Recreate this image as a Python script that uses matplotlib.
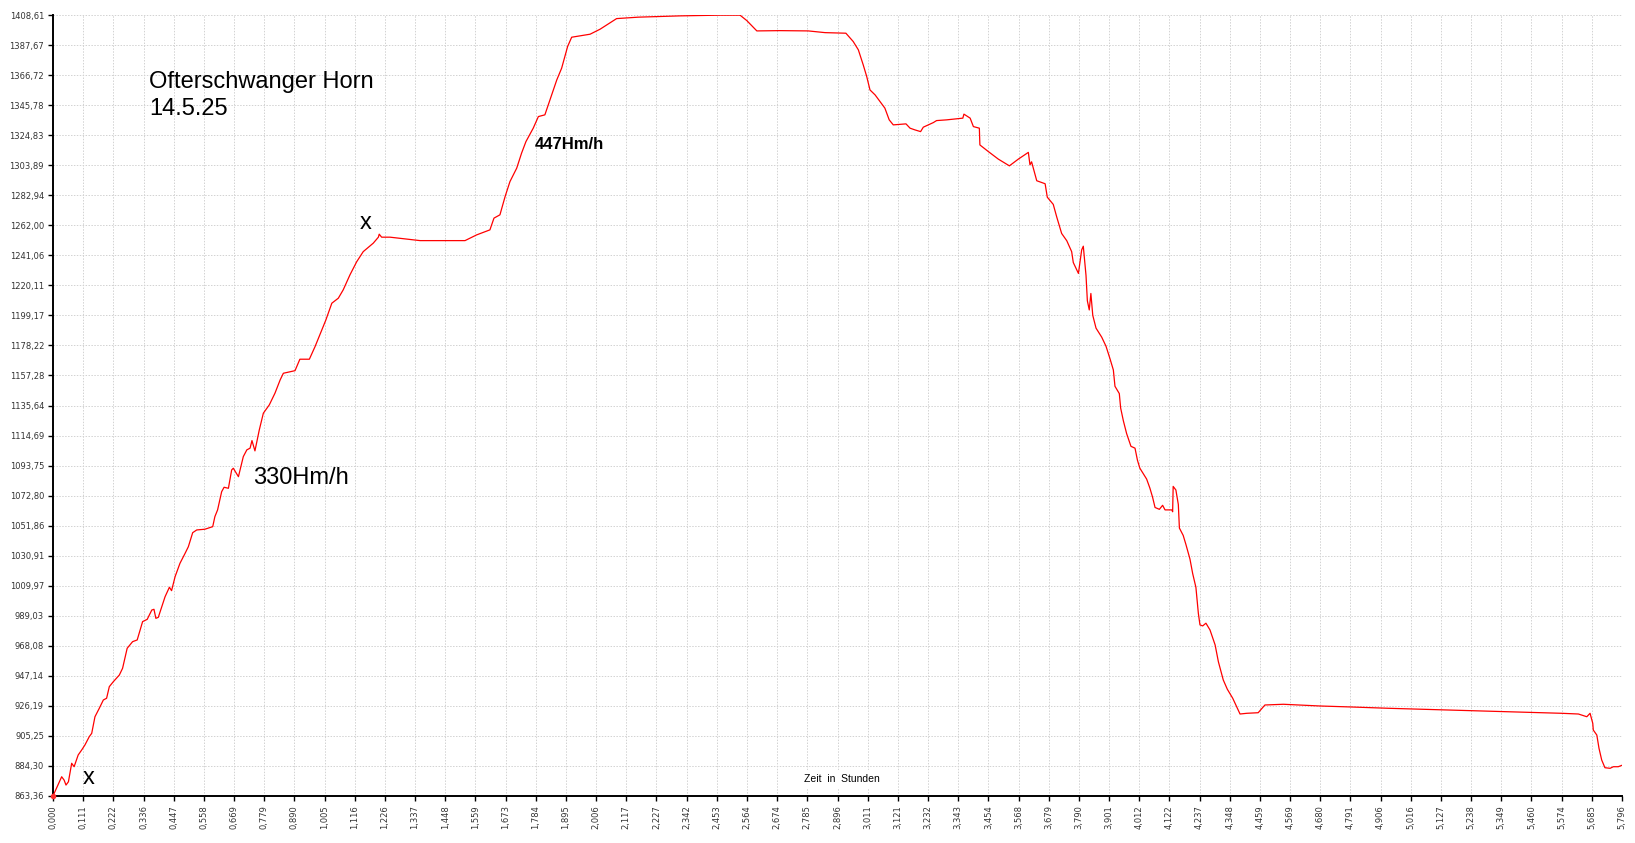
import matplotlib.pyplot as plt
import numpy as np

# Hoehenprofil, Zeit in Stunden / Hoehe in m
hours = [0.000, 0.032, 0.041, 0.048, 0.057, 0.069, 0.078, 0.093, 0.106, 0.118,
         0.134, 0.143, 0.155, 0.171, 0.186, 0.198, 0.208, 0.223, 0.245, 0.257,
         0.274, 0.294, 0.311, 0.331, 0.348, 0.365, 0.373, 0.380, 0.389, 0.414,
         0.430, 0.438, 0.451, 0.469, 0.488, 0.500, 0.516, 0.531, 0.561, 0.590,
         0.598, 0.608, 0.623, 0.632, 0.648, 0.660, 0.666, 0.685, 0.703, 0.716,
         0.728, 0.735, 0.746, 0.762, 0.777, 0.799, 0.820, 0.839, 0.851, 0.894,
         0.912, 0.947, 0.968, 1.008, 1.030, 1.054, 1.072, 1.097, 1.122, 1.146,
         1.183, 1.202, 1.205, 1.214, 1.245, 1.356, 1.522, 1.565, 1.614, 1.629,
         1.651, 1.670, 1.688, 1.713, 1.731, 1.747, 1.774, 1.793, 1.817, 1.836,
         1.861, 1.879, 1.891, 1.901, 1.916, 1.984, 2.021, 2.082, 2.162, 2.316,
         2.464, 2.538, 2.563, 2.600, 2.686, 2.790, 2.852, 2.929, 2.956, 2.975,
         2.993, 3.006, 3.018, 3.037, 3.055, 3.073, 3.089, 3.104, 3.151, 3.166,
         3.184, 3.205, 3.215, 3.252, 3.264, 3.301, 3.361, 3.365, 3.388, 3.400,
         3.422, 3.424, 3.455, 3.492, 3.533, 3.566, 3.603, 3.609, 3.615, 3.634,
         3.665, 3.673, 3.695, 3.708, 3.726, 3.745, 3.763, 3.769, 3.788, 3.800,
         3.806, 3.816, 3.821, 3.828, 3.834, 3.841, 3.853, 3.874, 3.890, 3.905,
         3.917, 3.923, 3.939, 3.944, 3.954, 3.966, 3.982, 3.997, 4.006, 4.015,
         4.040, 4.052, 4.062, 4.071, 4.087, 4.099, 4.108, 4.133, 4.136, 4.138,
         4.148, 4.157, 4.161, 4.175, 4.185, 4.200, 4.210, 4.222, 4.231, 4.237,
         4.247, 4.259, 4.274, 4.293, 4.305, 4.323, 4.338, 4.358, 4.385, 4.410,
         4.452, 4.477, 4.545, 4.680, 4.797, 4.933, 5.062, 5.185, 5.315, 5.444,
         5.573, 5.635, 5.666, 5.678, 5.688, 5.690, 5.703, 5.711, 5.721, 5.733,
         5.752, 5.764, 5.782, 5.796]
elevation = [863.4, 876.8, 874.5, 871.0, 873.3, 886.2, 883.8, 892.0, 895.5, 899.0,
             904.8, 907.1, 918.7, 924.6, 930.4, 931.6, 939.7, 943.2, 947.8, 952.5,
             966.5, 971.1, 972.3, 985.1, 986.7, 993.2, 993.7, 987.4, 988.1, 1002.5,
             1009.1, 1006.7, 1016.5, 1025.8, 1032.8, 1037.4, 1047.2, 1049.1, 1049.6, 1051.4,
             1058.4, 1063.1, 1075.8, 1078.9, 1078.2, 1091.0, 1092.2, 1086.3, 1100.3, 1105.0,
             1106.2, 1111.5, 1104.3, 1118.9, 1130.6, 1136.4, 1144.6, 1153.8, 1158.5, 1160.3,
             1168.3, 1168.3, 1177.1, 1195.7, 1207.4, 1210.9, 1216.7, 1227.2, 1236.4, 1243.4,
             1249.3, 1253.5, 1255.6, 1253.5, 1253.5, 1251.1, 1251.1, 1255.1, 1258.6, 1266.8,
             1269.1, 1281.8, 1292.3, 1301.7, 1312.2, 1320.2, 1329.6, 1337.7, 1338.9, 1349.4,
             1363.3, 1371.5, 1379.6, 1386.6, 1393.1, 1395.2, 1398.7, 1406.1, 1407.1, 1408.0,
             1408.5, 1408.5, 1404.7, 1397.5, 1397.7, 1397.5, 1396.3, 1395.9, 1390.1, 1384.3,
             1373.8, 1365.6, 1356.3, 1352.8, 1348.2, 1343.6, 1335.4, 1331.9, 1332.6, 1329.6,
             1328.4, 1327.2, 1330.3, 1333.5, 1334.9, 1335.4, 1336.6, 1339.4, 1336.6, 1330.7,
             1329.6, 1317.9, 1313.3, 1308.0, 1303.3, 1308.0, 1312.7, 1304.0, 1306.1, 1292.9,
             1290.8, 1281.4, 1276.4, 1267.5, 1256.1, 1251.0, 1243.4, 1235.8, 1228.2, 1244.6,
             1247.2, 1226.8, 1209.1, 1202.7, 1214.2, 1198.9, 1190.0, 1183.7, 1177.3, 1168.4,
             1160.8, 1149.4, 1144.3, 1134.2, 1125.3, 1116.4, 1107.5, 1106.2, 1097.8, 1092.2,
             1084.6, 1078.3, 1071.9, 1064.8, 1063.5, 1066.3, 1063.1, 1063.1, 1061.8, 1079.5,
             1077.0, 1066.9, 1050.4, 1045.3, 1039.0, 1028.8, 1018.7, 1009.0, 990.9, 982.8,
             982.1, 984.0, 979.3, 968.8, 957.1, 944.4, 937.9, 931.6, 920.6, 921.1,
             921.5, 926.9, 927.4, 926.2, 925.5, 924.6, 923.9, 923.2, 922.5, 921.8,
             921.1, 920.6, 918.7, 921.1, 914.1, 909.4, 905.9, 896.7, 888.5, 883.1,
             882.7, 883.8, 883.8, 884.8]

x_labels = ["0,000", "0,111", "0,222", "0,336", "0,447", "0,558", "0,669", "0,779",
            "0,890", "1,005", "1,116", "1,226", "1,337", "1,448", "1,559", "1,673",
            "1,784", "1,895", "2,006", "2,117", "2,227", "2,342", "2,453", "2,564",
            "2,674", "2,785", "2,896", "3,011", "3,121", "3,232", "3,343", "3,454",
            "3,568", "3,679", "3,790", "3,901", "4,012", "4,122", "4,237", "4,348",
            "4,459", "4,569", "4,680", "4,791", "4,906", "5,016", "5,127", "5,238",
            "5,349", "5,460", "5,574", "5,685", "5,796"]
y_labels = ["863,36", "884,30", "905,25", "926,19", "947,14", "968,08", "989,03",
            "1009,97", "1030,91", "1051,86", "1072,80", "1093,75", "1114,69", "1135,64",
            "1157,28", "1178,22", "1199,17", "1220,11", "1241,06", "1262,00", "1282,94",
            "1303,89", "1324,83", "1345,78", "1366,72", "1387,67", "1408,61"]

x_min, x_max = 0.0, 5.796
y_min, y_max = 863.36, 1408.61

fig = plt.figure(figsize=(16.35, 8.43), dpi=100)
ax = fig.add_axes([53 / 1635, 1 - 796 / 843, 1569 / 1635, 781 / 843])

ax.plot(hours, elevation, color='#ff0000', lw=0.9, zorder=3)
ax.plot(hours[0], elevation[0], 'o', color='#ff3030', ms=3, zorder=4, clip_on=False)

ax.set_xlim(x_min, x_max)
ax.set_ylim(y_min, y_max)
ax.set_xticks(np.linspace(x_min, x_max, len(x_labels)))
ax.set_xticklabels(x_labels, rotation=90)
ax.set_yticks(np.linspace(y_min, y_max, len(y_labels)))
ax.set_yticklabels(y_labels)
ax.tick_params(axis='both', direction='out', length=3.5, width=1, color='black',
               labelsize=6, labelcolor='#333333', pad=3)

ax.grid(True, color='#d2d2d2', lw=0.7, linestyle=(0, (1.5, 1.5)), zorder=0)
ax.set_axisbelow(True)
for side in ['top', 'right']:
    ax.spines[side].set_visible(False)
for side in ['left', 'bottom']:
    ax.spines[side].set_linewidth(1.4)

font = 'Liberation Sans'
# va='baseline' sitzt bei mehrzeiligem Text auf der letzten Zeile
ax.text(0.356, 1338.7, "Ofterschwanger Horn\n14.5.25", fontsize=17,
        family=font, va='baseline', ha='left', linespacing=1.3)
ax.text(0.738, 1081.2, "330Hm/h", fontsize=17, family=font, va='baseline')
ax.text(1.778, 1315.1, "447Hm/h", fontsize=12, family=font, weight='bold',
        va='baseline')
ax.text(0.111, 871.7, "x", fontsize=17, family=font, va='baseline')
ax.text(1.1315, 1259.5, "x", fontsize=17, family=font, va='baseline')
ax.text(2.915, 875.0, "Zeit  in  Stunden", fontsize=7.5, family=font,
        ha='center', va='center',
        bbox=dict(facecolor='white', edgecolor='none', pad=3))

fig.savefig("out.png", dpi=100)
